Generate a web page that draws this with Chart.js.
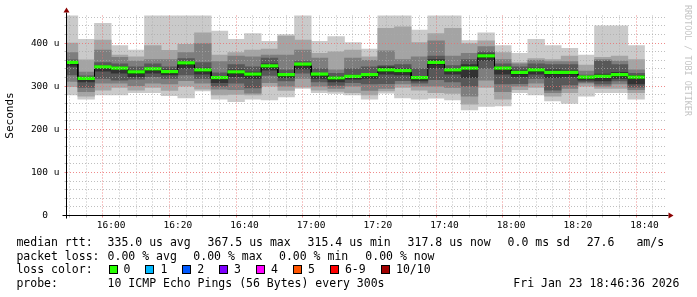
<!DOCTYPE html>
<html>
<head>
<meta charset="utf-8">
<script src="https://cdn.jsdelivr.net/npm/chart.js@4/dist/chart.umd.min.js"></script>
<style>
html,body{margin:0;padding:0;background:#fff;}
#wrap{position:relative;width:697px;height:297px;overflow:hidden;font-family:'DejaVu Sans Mono',monospace;background:#fff;}
#c{position:absolute;left:0;top:0;}
.t{position:absolute;font-size:11.5px;line-height:14px;white-space:pre;color:#000;}
.box{position:absolute;width:7px;height:7px;border:1px solid #000;}
#rrd{position:absolute;left:683px;top:5px;writing-mode:vertical-rl;font-size:8.4px;line-height:10px;color:#c4c4c4;white-space:pre;}
</style>
</head>
<body>
<div id="wrap">
<canvas id="c" width="697" height="297"></canvas>
<div id="rrd">RRDTOOL / TOBI OETIKER</div>
<div id="legend"></div>
</div>
<script>
// ---- data ----
const binStarts = ['15:45','15:50','15:55','16:00','16:05','16:10','16:15','16:20','16:25','16:30','16:35','16:40',
  '16:45','16:50','16:55','17:00','17:05','17:10','17:15','17:20','17:25','17:30','17:35','17:40',
  '17:45','17:50','17:55','18:00','18:05','18:10','18:15','18:20','18:25','18:30','18:35'];
// sorted ping RTTs per 5-minute bin (microseconds), ping1 = fastest ... ping10 = slowest
const ping1  = [280,270,280,280,285,285,278,273,289,270,264,270,268,275,295,285,283,280,270,284,273,270,272,268,245,253,254,285,280,266,260,277,285,285,270];
const ping2  = [299,277,291,297,291,297,290,300,293,280,281,280,300,290,298,291,288,285,280,289,297,291,285,283,258,297,270,292,297,277,285,300,295,295,285];
const ping3  = [311,287,307,307,301,307,305,313,307,293,292,284,308,300,318,300,295,300,290,295,305,300,300,297,277,314,287,300,307,285,295,307,300,305,292];
const ping4  = [326,297,318,314,316,322,318,326,318,300,307,296,325,312,330,310,302,308,305,306,313,307,315,310,300,341,305,306,318,291,303,310,305,312,298];
const ping5  = [346,310,335,330,322,330,326,342,328,308,322,318,337,320,340,318,310,316,318,328,326,312,342,328,320,360,328,322,328,320,322,314,312,318,305];
const ping6  = [357,318,348,345,336,342,338,356,342,322,338,333,352,330,350,330,322,326,330,345,340,322,362,340,350,375,345,336,342,338,336,322,328,332,325];
const ping7  = [361,324,355,352,345,352,345,364,355,331,350,345,365,338,358,340,330,340,345,348,350,340,370,348,362,380,352,345,352,350,350,326,358,350,330];
const ping8  = [378,333,384,367,358,362,362,378,399,357,370,368,372,372,384,365,338,365,360,382,362,368,405,370,376,392,362,352,360,357,357,335,362,358,338];
const ping9  = [400,361,407,372,368,394,383,397,424,372,378,384,386,416,407,376,380,384,368,434,438,401,422,434,399,405,378,355,364,362,370,349,367,370,362];
const ping10 = [470,409,446,394,384,470,470,470,470,428,409,422,404,420,470,404,415,401,386,470,470,430,470,470,406,424,394,376,409,394,388,372,440,440,394];
const median = [352,315.4,342,339,330,337,331,351,335,317,330,325,344,324,348,325,316,320,324,335,333,317,352,335,339,367.5,339,329,335,329,329,318,320,324,317.8];
const xTickLabels = ['16:00','16:20','16:40','17:00','17:20','17:40','18:00','18:20','18:40'];
const yTickLabels = ['0','100 u','200 u','300 u','400 u'];
const yTickValues = [0,100,200,300,400];
const axisStart = '15:46:36';
const axisEnd = '18:46:36';
const lossLabels = ['0','1','2','3','4','5','6-9','10/10'];

// ---- styles ----
const BIN_MIN = 5;
const Y_MAX = 464;
const MEDIAN_BAND = 6;
const bandColors = ['#cacaca','#a4a4a4','#7e7e7e','#585858','#323232'];
const lossColors = ['#26ff00','#00b8ff','#0059ff','#7e00ff','#ff00ff','#ff5500','#ff0000','#a10000'];
const MINOR_GRID = 'rgba(170,170,170,0.75)';
const MAJOR_GRID = 'rgba(235,110,110,0.8)';

const toMin = s => { const p = s.split(':').map(Number); return p[0]*60 + p[1] + (p[2]||0)/60; };
const fmt = v => { const h = Math.floor(v/60), m = Math.round(v - h*60); return String(h).padStart(2,'0') + ':' + String(m).padStart(2,'0'); };
const starts = binStarts.map(toMin);
const centers = starts.map(s => s + BIN_MIN/2);
const pings = [ping1,ping2,ping3,ping4,ping5,ping6,ping7,ping8,ping9,ping10];
const majorX = xTickLabels.map(toMin);
const isMajorX = v => majorX.some(m => Math.abs(m - v) < 0.01);
const xGrid = c => (c && c.tick && isMajorX(c.tick.value)) ? MAJOR_GRID : MINOR_GRID;
const yGrid = c => (c && c.tick && c.tick.value % 100 === 0) ? MAJOR_GRID : MINOR_GRID;

const datasets = [];
for (let k = 0; k < 5; k++) {
  datasets.push({
    type: 'bar', label: 'smoke' + k,
    data: centers.map((x, i) => ({x, y: [pings[k][i], pings[9-k][i]]})),
    backgroundColor: bandColors[k], borderWidth: 0, grouped: false,
    categoryPercentage: 1, barPercentage: 1, order: 10 - k
  });
}
datasets.push({
  type: 'line', label: 'median line',
  data: starts.flatMap((s, i) => [{x: s, y: median[i]}, {x: s + BIN_MIN, y: median[i]}]),
  borderColor: '#000', borderWidth: 1, pointRadius: 0, fill: false, order: 1
});
datasets.push({
  type: 'bar', label: 'median',
  data: centers.map((x, i) => ({x, y: [median[i], median[i] + MEDIAN_BAND]})),
  backgroundColor: lossColors[0], borderWidth: 0, grouped: false,
  categoryPercentage: 1, barPercentage: 1, order: 0
});

const axisArrows = {
  id: 'axisArrows',
  afterDraw(chart) {
    const {ctx, chartArea: a} = chart;
    const L = Math.round(a.left) + 0.5 - 1, B = Math.round(a.bottom) + 0.5 - 1;
    ctx.save();
    ctx.strokeStyle = '#000'; ctx.lineWidth = 1;
    ctx.beginPath();
    ctx.moveTo(L, a.bottom); ctx.lineTo(L, a.bottom + 3);
    ctx.moveTo(L, a.top); ctx.lineTo(L, a.top - 3);
    ctx.moveTo(a.left - 4, B); ctx.lineTo(a.left, B);
    ctx.moveTo(a.right, B); ctx.lineTo(a.right + 2, B);
    ctx.stroke();
    ctx.fillStyle = '#8b0000';
    ctx.beginPath();
    ctx.moveTo(L - 3, a.top - 3); ctx.lineTo(L + 3, a.top - 3); ctx.lineTo(L, a.top - 8); ctx.closePath(); ctx.fill();
    ctx.beginPath();
    ctx.moveTo(a.right + 2, B - 3); ctx.lineTo(a.right + 2, B + 3); ctx.lineTo(a.right + 7, B); ctx.closePath(); ctx.fill();
    ctx.restore();
  }
};

Chart.defaults.font.family = "'DejaVu Sans Mono', monospace";
new Chart(document.getElementById('c'), {
  type: 'bar',
  data: { datasets },
  plugins: [axisArrows],
  options: {
    responsive: false, animation: false, events: [],
    layout: { padding: { left: 0, right: 30.5, top: 15.5, bottom: 61.5 } },
    plugins: { legend: { display: false }, tooltip: { enabled: false } },
    scales: {
      x: {
        type: 'linear', min: toMin(axisStart), max: toMin(axisEnd), offset: false,
        afterFit: s => { s.height = 20; },
        afterBuildTicks: s => {
          const t = [];
          for (let v = Math.ceil(s.min / BIN_MIN) * BIN_MIN; v <= s.max; v += BIN_MIN) t.push({value: v});
          s.ticks = t;
        },
        ticks: {
          autoSkip: false, maxRotation: 0, padding: 2, color: '#000',
          font: { size: 9.5 },
          callback: v => isMajorX(v) ? fmt(v) : ''
        },
        grid: { z: 1, drawTicks: true, tickLength: 2, color: xGrid, tickColor: xGrid },
        border: { display: true, color: '#000', width: 1, z: 2, dash: [1, 2] }
      },
      y: {
        type: 'linear', min: 0, max: Y_MAX,
        afterFit: s => { s.width = 66.5; },
        afterBuildTicks: s => {
          const t = [];
          for (let v = 0; v < s.max; v += 20) t.push({value: v});
          s.ticks = t;
        },
        ticks: {
          autoSkip: false, padding: 5, color: '#000', font: { size: 9.5 },
          callback: v => {
            const i = yTickValues.indexOf(v);
            if (i < 0) return '';
            return yTickLabels[i].length === 1 ? yTickLabels[i] + '  ' : yTickLabels[i];
          }
        },
        title: { display: true, text: 'Seconds', color: '#000', font: { size: 11 }, padding: { top: 4, bottom: 0 } },
        grid: { z: 1, drawTicks: true, tickLength: 2, color: yGrid, tickColor: yGrid },
        border: { display: true, color: '#000', width: 1, z: 2, dash: [1, 2] }
      }
    }
  }
});

// ---- text legend ----
const leg = document.getElementById('legend');
function txt(x, y, s) { const d = document.createElement('div'); d.className = 't'; d.style.left = x + 'px'; d.style.top = y + 'px'; d.textContent = s; leg.appendChild(d); }
const rows = [234.7, 248.7, 262.3, 276.3];
txt(16.4, rows[0], 'median rtt:');
txt(107.6, rows[0], '335.0 us avg');
txt(207.6, rows[0], '367.5 us max');
txt(307.6, rows[0], '315.4 us min');
txt(407.6, rows[0], '317.8 us now');
txt(507.6, rows[0], '0.0 ms sd');
txt(586.7, rows[0], '27.6');
txt(636.4, rows[0], 'am/s');
txt(16.4, rows[1], 'packet loss:');
txt(107.6, rows[1], '0.00 % avg');
txt(193.3, rows[1], '0.00 % max');
txt(279, rows[1], '0.00 % min');
txt(365.3, rows[1], '0.00 % now');
txt(16.4, rows[2], 'loss color:');
const lossX = [123.6, 160.4, 197.3, 234, 271, 308, 344.9, 396];
lossLabels.forEach((l, i) => {
  const b = document.createElement('div'); b.className = 'box';
  b.style.left = (lossX[i] - 15) + 'px'; b.style.top = (rows[2] + 2.5) + 'px';
  b.style.background = lossColors[i]; leg.appendChild(b);
  txt(lossX[i], rows[2], l);
});
txt(16.4, rows[3], 'probe:');
txt(107.6, rows[3], '10 ICMP Echo Pings (56 Bytes) every 300s');
txt(513.3, rows[3], 'Fri Jan 23 18:46:36 2026');
</script>
</body>
</html>
